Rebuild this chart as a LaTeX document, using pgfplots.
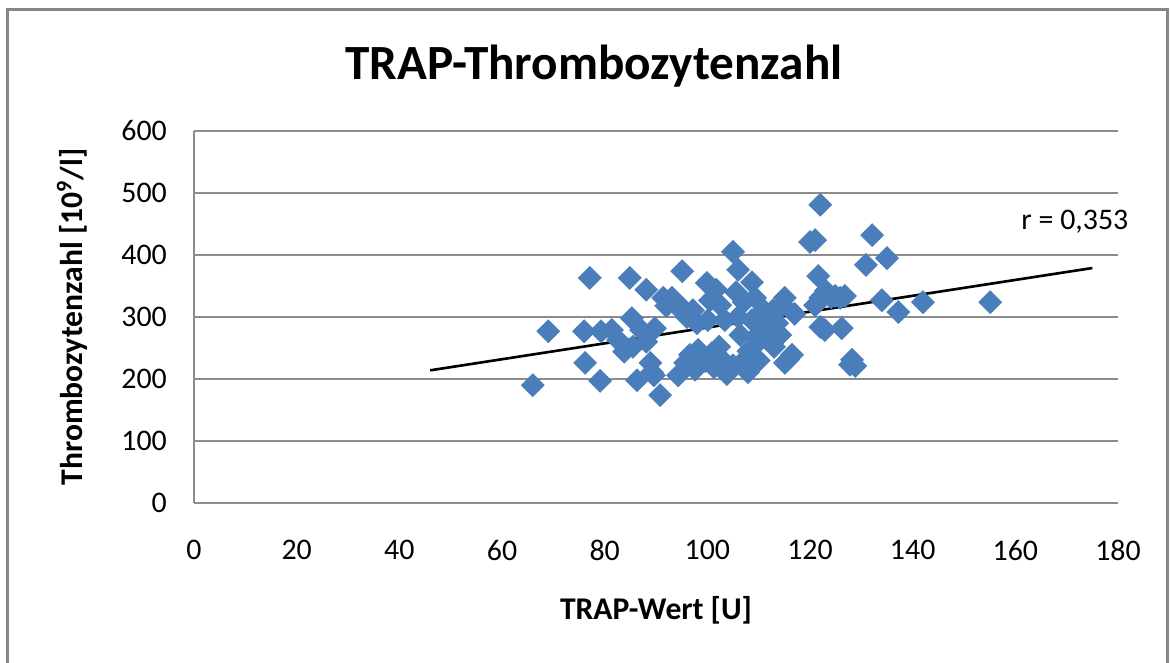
\documentclass[border=0pt]{standalone}
\usepackage{pgfplots}
\pgfplotsset{compat=1.18}
\usepackage{fontspec}
\setmainfont{Carlito}
\definecolor{exblue}{HTML}{4A7EBB}
\definecolor{exgrid}{HTML}{8C8C8C}
\definecolor{exframe}{HTML}{868686}

\begin{document}
\begin{tikzpicture}
  % page = 1171 x 662 px, 1 px = 0.02 cm, y downwards negative
  \clip (0,0) rectangle (23.42cm,-13.24cm);
  \draw[exframe, line width=0.06cm] (0.15cm,-0.19cm) rectangle (23.35cm,-14cm);
  \node[font=\fontsize{28}{32}\selectfont\bfseries] at (11.88cm,-1.32cm) {TRAP-Thrombozytenzahl};
  \begin{axis}[
      at={(3.88cm,-10.06cm)}, anchor=south west,
      scale only axis, width=18.48cm, height=7.44cm,
      xmin=0, xmax=180, ymin=0, ymax=600,
      xtick={0,20,...,180}, ytick={0,100,...,600},
      axis lines=left, axis line style={-, exgrid, line width=0.8pt},
      major tick length=0pt,
      ymajorgrids, grid style={exgrid, line width=0.8pt},
      /pgf/number format/assume math mode=true,
      tick label style={font=\fontsize{17}{20}\selectfont},
      xticklabel style={yshift=-0.62cm},
      yticklabel style={xshift=-0.42cm},
      xlabel={TRAP-Wert [U]}, ylabel={Thrombozytenzahl [10\textsuperscript{9}/l]},
      label style={font=\fontsize{18}{21}\selectfont\bfseries},
      xlabel style={at={(0.5,0)}, anchor=center, yshift=-2.14cm},
      ylabel style={at={(0,0.5)}, anchor=center, rotate=0, yshift=2.44cm},
      clip=false]
    \addplot[only marks, mark=square*, mark size=4.6pt,
      mark options={rotate=45, fill=exblue, draw=exblue}]
      coordinates {
        (66.0,190)(69.0,277)(76.0,277)(76.2,226)(77.1,363)(79.1,197)
        (79.3,277)(81.4,279)(82.6,263)(83.8,244)(84.9,363)(85.3,298)
        (85.5,252)(86.3,198)(87.1,279)(88.1,260)(88.1,344)(88.9,226)
        (89.2,211)(89.8,282)(90.8,174)(89.6,206)(91.4,331)(93.1,331)
        (93.9,319)(94.3,206)(95.1,374)(95.3,313)(95.7,226)(96.6,239)
        (97.2,311)(97.6,215)(98.2,247)(99.6,229)(99.9,355)(100.5,327)
        (100.1,295)(100.9,242)(101.3,219)(101.7,344)(102.3,252)(102.5,319)
        (102.9,231)(103.4,295)(103.8,208)(105.0,405)(105.6,340)(106.0,376)
        (106.4,271)(107.1,324)(107.3,231)(107.9,211)(108.7,356)(109.3,331)
        (108.7,295)(109.5,269)(110.3,263)(111.0,311)(111.8,287)(112.8,311)
        (113.6,290)(114.2,271)(114.7,319)(115.1,331)(115.7,231)(115.1,226)
        (116.5,239)(120.0,421)(121.0,424)(121.6,366)(122.0,481)(121.0,319)
        (122.0,331)(122.0,284)(122.9,279)(123.1,342)(124.1,332)(124.9,334)
        (125.9,331)(126.2,282)(126.8,334)(128.2,231)(128.8,221)(127.8,223)
        (130.9,384)(132.1,432)(134.0,327)(135.0,395)(137.2,308)(142.0,324)
        (155.1,324)(98.0,290)(106.0,300)(110.0,230)(112.0,262)
        (108.0,245)(113.0,252)(96.0,300)(92.0,318)
        (117.0,305)(97.0,228)(101.0,232)(105.0,222)
      };
    \addplot[black, line width=1.5pt] coordinates {(46,214)(175,379)};
    \node[font=\fontsize{17}{20}\selectfont] at (axis cs:171.6,453) {r = 0,353};
  \end{axis}
\end{tikzpicture}
\end{document}
